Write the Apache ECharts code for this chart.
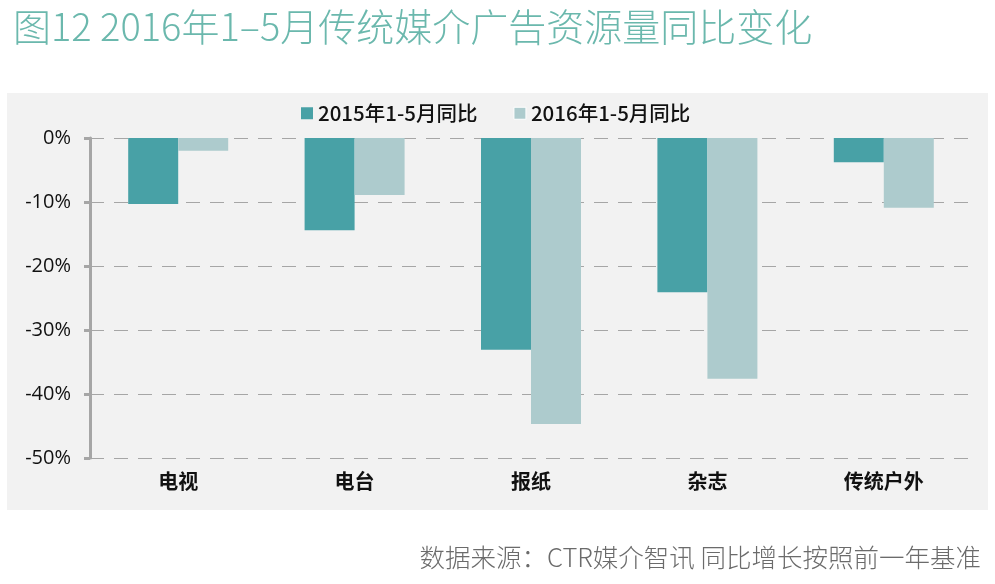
<!DOCTYPE html>
<html><head><meta charset="utf-8">
<script src="https://cdn.jsdelivr.net/npm/echarts@6/dist/echarts.min.js"></script>
<style>html,body{margin:0;padding:0;background:#fff}#c{width:995px;height:584px}</style>
</head><body><div id="c"></div>
<script>
const categories = ['电视', '电台', '报纸', '杂志', '传统户外'];
const series2015 = [-10.3, -14.4, -33.1, -24.1, -3.8];
const series2016 = [-2.0, -8.9, -44.7, -37.6, -10.9];
const seriesNames = ['2015年1-5月同比', '2016年1-5月同比'];

const chart = echarts.init(document.getElementById('c'));
const cjk = '"Noto Sans CJK SC", "Noto Sans", sans-serif';
chart.setOption({
  backgroundColor: '#ffffff',
  animation: false,
  title: [{
    text: '图12 2016年1–5月传统媒介广告资源量同比变化',
    left: 8, top: 3,
    textStyle: { color: '#6bb8ad', fontSize: 38, fontWeight: 300, fontFamily: cjk }
  }, {
    text: '数据来源：CTR媒介智讯 同比增长按照前一年基准',
    right: 9, top: 540,
    textStyle: { color: '#6b6b6b', fontSize: 25.5, fontWeight: 300, fontFamily: cjk }
  }],
  graphic: [{
    type: 'rect', z: -10, silent: true,
    shape: { x: 7, y: 93, width: 981, height: 417 },
    style: { fill: '#f2f2f2' }
  }],
  legend: {
    data: [
      { name: seriesNames[0] },
      { name: seriesNames[1], itemStyle: { borderColor: '#ffffff', borderWidth: 1 } }
    ],
    left: 296, top: 98,
    icon: 'rect', itemWidth: 12, itemHeight: 12, itemGap: 36,
    textStyle: { color: '#111', fontSize: 20.5, fontFamily: cjk, fontWeight: 500 }
  },
  grid: { left: 90, right: 23, top: 138, bottom: 126 },
  xAxis: {
    type: 'category', data: categories, position: 'bottom',
    axisLine: { show: false }, axisTick: { show: false },
    axisLabel: { color: '#111', fontSize: 20, fontWeight: 'bold', fontFamily: cjk, margin: 13 }
  },
  yAxis: {
    type: 'value', min: -50, max: 0, interval: 10,
    axisLine: { show: true, lineStyle: { color: '#a6a6a6', width: 3 } },
    axisTick: { show: true, length: 6, lineStyle: { color: '#a6a6a6', width: 3 } },
    axisLabel: { formatter: '{value}%', color: '#111', fontSize: 20, fontFamily: '"Open Sans", "Noto Sans", sans-serif', margin: 19 },
    splitLine: { show: true, lineStyle: { color: '#a6a6a6', type: [14, 10], width: 1 } }
  },
  series: [{
    name: seriesNames[0], type: 'bar', data: series2015,
    barWidth: 50, barGap: '0%',
    itemStyle: { color: '#48a1a6' }
  }, {
    name: seriesNames[1], type: 'bar', data: series2016,
    barWidth: 50,
    itemStyle: { color: '#adcbcd' }
  }]
});
</script>
</body></html>
